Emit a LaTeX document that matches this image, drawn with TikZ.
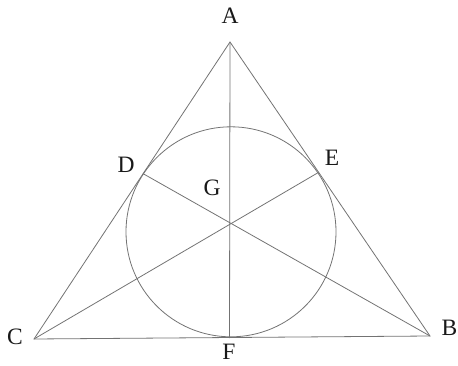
\documentclass[tikz,border=0pt]{standalone}
\usepackage{fontspec}
\setmainfont{Liberation Serif}
\begin{document}
\begin{tikzpicture}[x=1pt,y=-1pt,
  geo/.style={draw=black!55,line width=0.8pt},
  lab/.style={font=\fontsize{23.5}{23.5}\selectfont,text=black!90,inner sep=0pt}]
\useasboundingbox (0,0) rectangle (458,366);
% vertices and touch points
\coordinate (A) at (230,42);
\coordinate (B) at (430,336);
\coordinate (C) at (34,339);
\coordinate (D) at (143,173.6);
\coordinate (E) at (318.5,172.4);
\coordinate (F) at (229.5,338);
\coordinate (O) at (231,231.8);
% triangle and incircle
\draw[geo,line join=miter] (A) -- (B) -- (C) -- cycle;
\draw[geo] (O) circle (105);
% cevians
\draw[geo] (A) -- (F);
\draw[geo] (B) -- (D);
\draw[geo] (C) -- (E);
% labels
\node[lab] (lA) at (230,16) {A};
\node[lab] (lB) at (449.5,328) {B};
\node[lab] (lC) at (15,337) {C};
\node[lab] (lD) at (126,165) {D};
\node[lab] (lE) at (332,158) {E};
\node[lab] (lF) at (229,351.5) {F};
\node[lab] (lG) at (212,188) {G};
\end{tikzpicture}
\end{document}
